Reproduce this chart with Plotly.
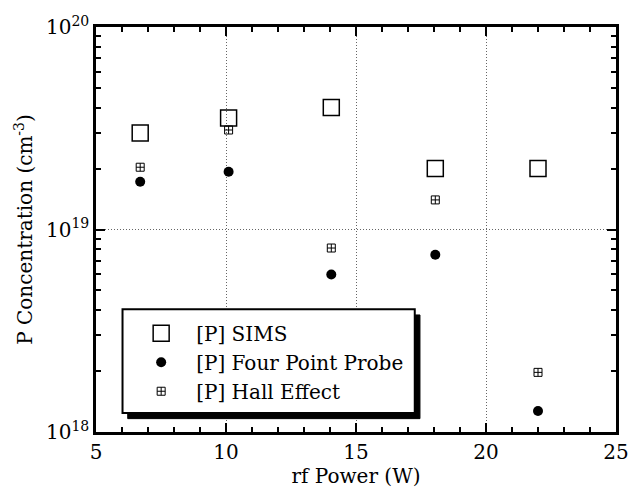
import plotly.graph_objects as go

# rf power (W) for each deposition
rf_power = [6.7, 10.1, 14.05, 18.05, 22.0]

# phosphorus concentration (cm^-3) by measurement method
sims = [3.0e19, 3.55e19, 4.0e19, 2.0e19, 2.0e19]
four_point = [1.72e19, 1.93e19, 6.0e18, 7.5e18, 1.27e18]
hall = [2.03e19, 3.1e19, 8.1e18, 1.4e19, 1.97e18]

x_ticks = [5, 10, 15, 20, 25]
x_minor = [v for v in range(6, 25) if v % 5]
y_ticks = [1e18, 1e19, 1e20]
y_tick_text = ["10<sup>18</sup>", "10<sup>19</sup>", "10<sup>20</sup>"]
y_minor = [m * d for d in (1e18, 1e19) for m in range(2, 10)]

FONT = "DejaVu Serif"
FS = 20

fig = go.Figure()
fig.add_trace(go.Scatter(
    x=rf_power, y=sims, mode="markers", name="[P] SIMS",
    marker=dict(symbol="square-open", size=16, color="black", line=dict(width=1.5)),
))
fig.add_trace(go.Scatter(
    x=rf_power, y=four_point, mode="markers", name="[P] Four Point Probe",
    marker=dict(symbol="circle", size=10, color="black"),
))
fig.add_trace(go.Scatter(
    x=rf_power, y=hall, mode="markers", name="[P] Hall Effect",
    marker=dict(symbol="square-cross-open", size=8, color="black", line=dict(width=1)),
))

# legend frame with a drop shadow (paper coordinates)
bx0, bx1, by0, by1 = 0.051, 0.613, 0.047, 0.303
sx, sy = 0.010, 0.014
fig.add_shape(type="rect", xref="paper", yref="paper",
              x0=bx0 + sx, x1=bx1 + sx, y0=by0 - sy, y1=by1 - sy,
              fillcolor="black", line=dict(color="black", width=1), layer="above")
fig.add_shape(type="rect", xref="paper", yref="paper",
              x0=bx0, x1=bx1, y0=by0, y1=by1,
              fillcolor="white", line=dict(color="black", width=2), layer="above")

axis_common = dict(
    ticks="inside", ticklen=9, tickwidth=1.5, tickcolor="black",
    showline=True, linecolor="black", linewidth=2.5, mirror="allticks",
    showgrid=True, gridcolor="#666", griddash="1px,2px", gridwidth=1,
    zeroline=False, tickfont=dict(family=FONT, size=FS),
)
minor_common = dict(ticks="inside", ticklen=5, tickwidth=1.5, tickcolor="black", showgrid=False)

fig.update_layout(
    width=639, height=494,
    margin=dict(l=96, r=10, t=27, b=62),
    paper_bgcolor="white", plot_bgcolor="white",
    font=dict(family=FONT, size=FS, color="black"),
    showlegend=True,
    legend=dict(
        x=0.058, y=0.292, xanchor="left", yanchor="top",
        bgcolor="rgba(0,0,0,0)", borderwidth=0,
        font=dict(family=FONT, size=FS), itemwidth=60,
        tracegroupgap=0,
    ),
    xaxis=dict(
        range=[5, 25], tickmode="array", tickvals=x_ticks,
        minor=dict(tickvals=x_minor, **minor_common),
        title=dict(text="rf Power (W)", font=dict(family=FONT, size=FS), standoff=4),
        **axis_common,
    ),
    yaxis=dict(
        type="log", range=[18, 20],
        tickmode="array", tickvals=y_ticks, ticktext=y_tick_text,
        minor=dict(tickvals=y_minor, **minor_common),
        title=dict(text="P Concentration (cm<sup>-3</sup>)", font=dict(family=FONT, size=FS), standoff=8),
        **axis_common,
    ),
)

fig.write_html("out.html")
